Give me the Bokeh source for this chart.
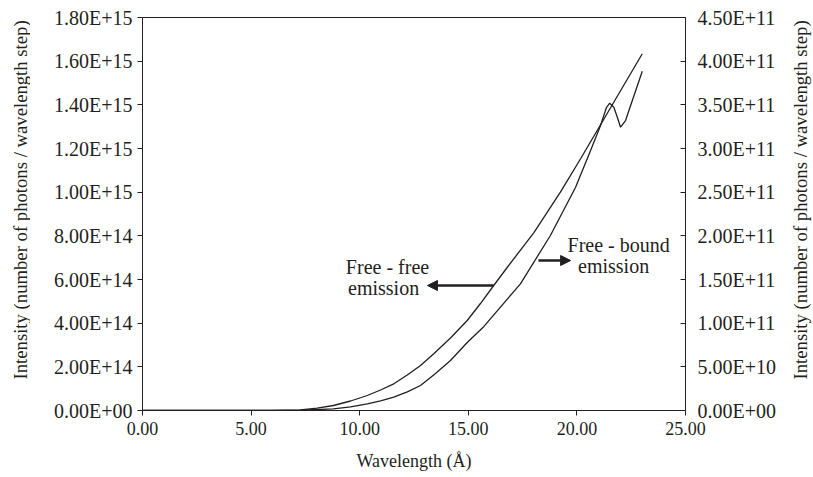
import math
from bokeh.plotting import figure
from bokeh.layouts import row
from bokeh.models import (Range1d, LinearAxis, FixedTicker, CustomJSTickFormatter,
                          PrintfTickFormatter, Arrow, NormalHead, ColumnDataSource)
from bokeh.core.properties import value
from bokeh.embed import file_html
from bokeh.resources import INLINE

# ---------------- data ----------------
# Free-free emission (left axis)
ff_wavelength = [0.0, 5.0, 5.89, 7.27, 8.04, 8.79, 9.58, 10.35, 10.96, 11.57, 12.19, 12.80,
                 13.41, 14.18, 14.95, 15.56, 16.17, 16.79, 18.02, 19.24, 20.17, 23.01]
ff_intensity = [0.0, 0.0, 0.0, 3.2e12, 1.1e13, 2.29e13, 4.35e13, 6.87e13, 9.39e13, 1.223e14,
                1.626e14, 2.061e14, 2.597e14, 3.32e14, 4.122e14, 4.9e14, 5.725e14, 6.55e14,
                8.15e14, 1.0e15, 1.153e15, 1.634e15]

# Free-bound emission (right axis)
fb_wavelength = [0.0, 5.0, 5.89, 7.27, 8.79, 9.58, 10.35, 10.96, 11.57, 12.19, 12.80, 13.49,
                 14.18, 14.95, 15.71, 17.40, 18.78, 19.94, 20.63, 21.09, 21.36, 21.51, 21.70,
                 21.85, 22.01, 22.24, 22.38, 23.01]
fb_intensity = [0.0, 0.0, 0.0, 3e8, 1.9e9, 4.2e9, 7.7e9, 1.11e10, 1.52e10, 2.14e10, 2.86e10,
                4.24e10, 5.73e10, 7.79e10, 9.6e10, 1.45e11, 2.004e11, 2.557e11, 2.977e11,
                3.263e11, 3.469e11, 3.519e11, 3.473e11, 3.366e11, 3.244e11, 3.32e11, 3.424e11,
                3.885e11]

x_ticks = [0, 5, 10, 15, 20, 25]
left_ticks = [i * 2e14 for i in range(10)]
right_ticks = [i * 5e10 for i in range(10)]

annotation_text = ["Free - free", "emission", "Free - bound", "emission"]
annotation_x = [11.28, 11.10, 21.92, 21.69]
annotation_y = [6.55e14, 5.63e14, 7.56e14, 6.64e14]

y_title = "Intensity (number of photons / wavelength step)"
x_title = "Wavelength (Å)"

# ---------------- styling ----------------
INK = "#231f20"
FONT = "Liberation Serif"
W, H = 813, 477
SIDE_W = 30          # width of the strips carrying the rotated axis titles
FRAME_H = 393        # the strips' frames are aligned with the main plot frame
TITLE_START = 31     # where the rotated titles begin, measured up from the frame bottom

p = figure(width=W - 2 * SIDE_W, height=H, output_backend="svg", toolbar_location=None,
           x_range=Range1d(0, 25), y_range=Range1d(0, 1.8e15),
           min_border_left=142 - SIDE_W, min_border_right=W - SIDE_W - 685,
           min_border_top=17, min_border_bottom=67)
p.extra_y_ranges = {"right": Range1d(0, 4.5e11)}
p.xgrid.visible = False
p.ygrid.visible = False
p.outline_line_color = INK
p.outline_line_width = 1
p.background_fill_color = "white"
p.border_fill_color = "white"

sci = CustomJSTickFormatter(code="""
let s = Number(tick).toExponential(2).toUpperCase();
let parts = s.split('E');
let e = parts[1];
let sign = e[0];
let d = e.slice(1).padStart(2, '0');
return parts[0] + 'E' + sign + d;
""")

def style_axis(ax):
    ax.axis_line_color = INK
    ax.axis_line_width = 1
    ax.major_tick_line_color = INK
    ax.minor_tick_line_color = None
    ax.major_label_text_font = FONT
    ax.major_label_text_color = INK
    ax.axis_label_text_font = FONT
    ax.axis_label_text_color = INK
    ax.axis_label_text_font_style = "normal"

# x axis
xa = p.xaxis[0]
style_axis(xa)
xa.ticker = FixedTicker(ticks=x_ticks)
xa.formatter = PrintfTickFormatter(format="%.2f")
xa.major_tick_out = 5
xa.major_tick_in = 0
xa.major_label_text_font_size = "18px"
xa.axis_label = x_title
xa.axis_label_text_font_size = "18px"
xa.major_label_standoff = 6
xa.axis_label_standoff = 13

# left y axis
ya = p.yaxis[0]
style_axis(ya)
ya.ticker = FixedTicker(ticks=left_ticks)
ya.formatter = sci
ya.major_tick_out = 5
ya.major_tick_in = 0
ya.major_label_text_font_size = "20px"
ya.major_label_standoff = 5

# right y axis
ra = LinearAxis(y_range_name="right")
style_axis(ra)
ra.ticker = FixedTicker(ticks=right_ticks)
ra.formatter = sci
ra.major_tick_out = 0
ra.major_tick_in = 5
ra.major_label_text_font_size = "20px"
ra.major_label_standoff = 12
p.add_layout(ra, "right")

# curves
p.line(ff_wavelength, ff_intensity, line_color=INK, line_width=1.3)
p.line(fb_wavelength, fb_intensity, line_color=INK, line_width=1.3, y_range_name="right")

# annotations
src = ColumnDataSource(dict(x=annotation_x, y=annotation_y, t=annotation_text))
p.text(x="x", y="y", text="t", source=src, text_font=value(FONT), text_font_size="20px",
       text_color=INK, text_align="center", text_baseline="middle")

p.add_layout(Arrow(end=NormalHead(size=10, fill_color=INK, line_color=INK),
                   x_start=16.17, y_start=5.725e14, x_end=13.12, y_end=5.725e14,
                   line_color=INK, line_width=2.5))
p.add_layout(Arrow(end=NormalHead(size=10, fill_color=INK, line_color=INK),
                   x_start=18.23, y_start=6.87e14, x_end=19.71, y_end=6.87e14,
                   line_color=INK, line_width=2.5))


def title_strip(center_x):
    s = figure(width=SIDE_W, height=H, output_backend="svg", toolbar_location=None,
               title=None, x_range=Range1d(0, SIDE_W), y_range=Range1d(0, FRAME_H),
               x_axis_type=None, y_axis_type=None,
               min_border_left=0, min_border_right=0, min_border_top=0, min_border_bottom=0)
    s.xgrid.visible = False
    s.ygrid.visible = False
    s.outline_line_color = None
    s.background_fill_color = "white"
    s.border_fill_color = "white"
    s.text(x=[center_x], y=[TITLE_START], text=[y_title], angle=math.pi / 2,
           text_font=value(FONT), text_font_size="18.7px", text_color=INK,
           text_align="left", text_baseline="middle")
    return s


left_strip = title_strip(20)
right_strip = title_strip(800 - (W - SIDE_W))

layout = row(left_strip, p, right_strip, spacing=0)
open("out.html", "w").write(file_html(layout, INLINE))
